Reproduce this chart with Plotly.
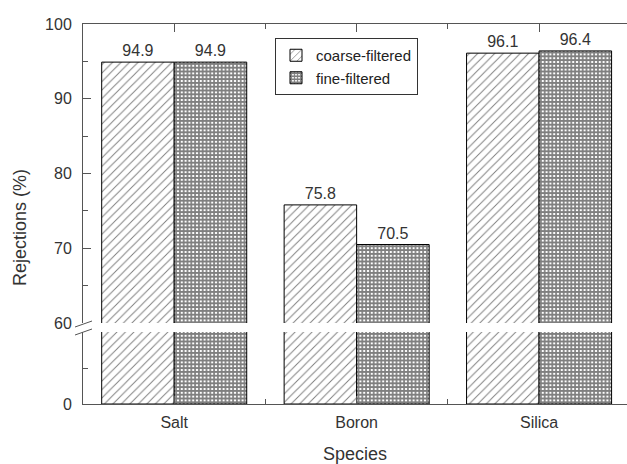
import plotly.graph_objects as go

categories = ["Salt", "Boron", "Silica"]
coarse = [94.9, 75.8, 96.1]
fine = [94.9, 70.5, 96.4]
upper_ticks = [60, 70, 80, 90, 100]

W, H = 627, 464
L, R, T, B = 83, 0, 24, 60
plot_h = H - T - B
up_top, up_bot = 24, 323
lo_top, lo_bot = 332, 404
def py(p):
    return (lo_bot - p) / plot_h

xpos = list(range(len(categories)))
FONT = "Liberation Sans, Arial, sans-serif"
TXT = "#333333"
AX = "#555555"

coarse_pat = dict(shape="/", fgcolor="black", bgcolor="white", size=6, solidity=0.16)
fine_pat = dict(shape="+", fgcolor="black", bgcolor="white", size=3.8, solidity=0.7)

fig = go.Figure()
fig.add_trace(go.Bar(x=xpos, y=coarse, marker=dict(color="white", pattern=coarse_pat, line=dict(color="black", width=1)),
                     xaxis="x", yaxis="y", showlegend=False, offsetgroup="c"))
fig.add_trace(go.Bar(x=xpos, y=fine, marker=dict(color="white", pattern=fine_pat, line=dict(color="black", width=1)),
                     xaxis="x", yaxis="y", showlegend=False, offsetgroup="f"))
fig.add_trace(go.Bar(x=xpos, y=coarse, name="coarse-filtered", text=[f"{v:.1f}" for v in coarse],
                     textposition="outside", cliponaxis=False,
                     textfont=dict(family=FONT, size=16, color=TXT),
                     marker=dict(color="white", pattern=coarse_pat, line=dict(color="black", width=1)),
                     xaxis="x2", yaxis="y2", offsetgroup="c"))
fig.add_trace(go.Bar(x=xpos, y=fine, name="fine-filtered", text=[f"{v:.1f}" for v in fine],
                     textposition="outside", cliponaxis=False,
                     textfont=dict(family=FONT, size=16, color=TXT),
                     marker=dict(color="white", pattern=fine_pat, line=dict(color="black", width=1)),
                     xaxis="x2", yaxis="y2", offsetgroup="f"))

xr = [-0.5, 2.482]
minor_x = [i + 0.5 for i in xpos[:-1]]

fig.update_layout(
    width=W, height=H,
    margin=dict(l=L, r=R, t=T, b=B),
    paper_bgcolor="white", plot_bgcolor="white",
    barmode="group", bargap=0.205, bargroupgap=0,
    font=dict(family=FONT, color=TXT),
    xaxis=dict(range=xr, tickmode="array", tickvals=xpos, ticktext=categories,
               showline=True, linecolor=AX, linewidth=1, ticks="inside", ticklen=8, tickcolor=AX,
               minor=dict(tickmode="array", tickvals=minor_x, ticks="inside", ticklen=5, tickcolor=AX),
               tickfont=dict(size=16, color=TXT), showgrid=False, zeroline=False,
               ticklabelstandoff=4,
               title=dict(text="Species", font=dict(size=18, color=TXT), standoff=20),
               anchor="y", domain=[0, 1]),
    xaxis2=dict(range=xr, matches="x", tickmode="array", tickvals=xpos, showticklabels=False,
                side="top", showline=True, linecolor=AX, linewidth=1, ticks="inside", ticklen=8, tickcolor=AX,
                minor=dict(tickmode="array", tickvals=minor_x, ticks="inside", ticklen=5, tickcolor=AX),
                showgrid=False, zeroline=False, anchor="y2", domain=[0, 1]),
    yaxis=dict(range=[0, 60], domain=[0, py(lo_top)], tickmode="array", tickvals=[0],
               showline=True, linecolor=AX, linewidth=1, ticks="inside", ticklen=8, tickcolor=AX,
               minor=dict(tickmode="array", tickvals=[30], ticks="inside", ticklen=5, tickcolor=AX),
               ticklabelstandoff=7,
               tickfont=dict(size=16, color=TXT), showgrid=False, zeroline=False, anchor="x"),
    yaxis2=dict(range=[60, 100], domain=[py(up_bot), 1], tickmode="array", tickvals=upper_ticks,
                showline=True, linecolor=AX, linewidth=1, ticks="inside", ticklen=8, tickcolor=AX,
                minor=dict(dtick=5, ticks="inside", ticklen=5, tickcolor=AX),
                ticklabelstandoff=7,
                tickfont=dict(size=16, color=TXT), showgrid=False, zeroline=False, anchor="x2"),
    legend=dict(x=(275 - L) / (W - L - R), y=py(38), xanchor="left", yanchor="top",
                bordercolor="#333333", borderwidth=1, bgcolor="white",
                font=dict(size=15, color="#222222"), tracegroupgap=0,
                itemwidth=30),
    annotations=[dict(text="Rejections (%)", xref="paper", yref="paper",
                      x=(20 - L) / (W - L - R), y=py(228), textangle=-90,
                      xanchor="center", yanchor="middle",
                      showarrow=False, font=dict(size=18, color=TXT))],
)

pw = W - L - R
def px(p):
    return (p - L) / pw
for y0 in (322, 330):
    fig.add_shape(type="line", xref="paper", yref="paper",
                  x0=px(75), y0=py(y0 + 5), x1=px(92), y1=py(y0 - 1),
                  line=dict(color=AX, width=1))

fig.write_html("out.html", config={"displayModeBar": False},
               post_script="document.body.style.margin='0';document.body.style.overflow='hidden';")
